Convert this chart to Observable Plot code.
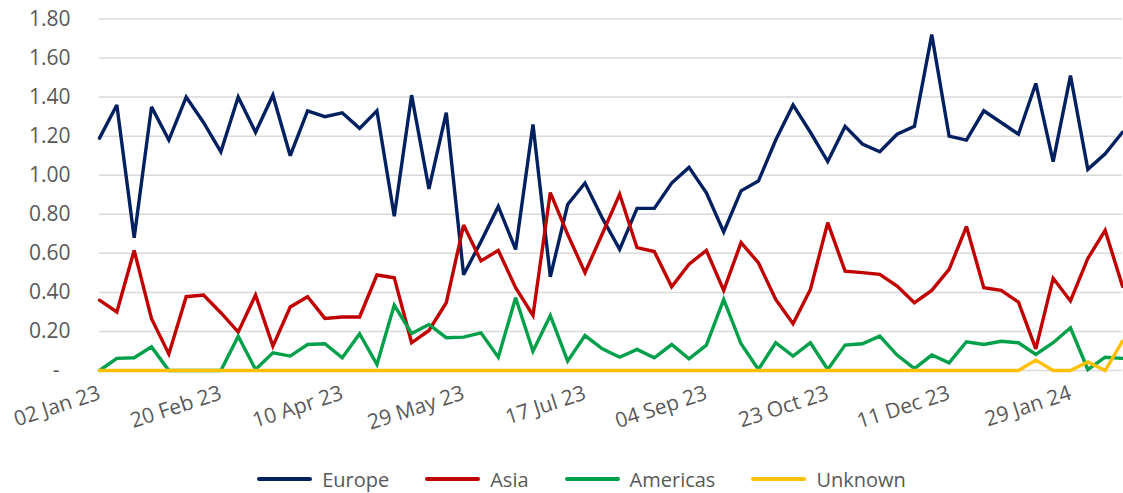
<!DOCTYPE html>
<html>
<head>
<meta charset="utf-8">
<script src="https://cdn.jsdelivr.net/npm/d3@7"></script>
<script src="https://cdn.jsdelivr.net/npm/@observablehq/plot@0.6"></script>
<style>
  html, body { margin: 0; padding: 0; background: #ffffff; overflow: hidden; }
  body { width: 1123px; height: 493px; font-family: "Open Sans", sans-serif; }
  #chart svg { display: block; }
  .legend { display: flex; justify-content: center; align-items: center; height: 38px; margin-top: 5px; padding-left: 40px; box-sizing: border-box; width: 1123px; }
  .item { display: flex; align-items: center; margin: 0 18px; color: #595959; font-size: 20px; }
  .swatch { width: 55px; height: 4px; border-radius: 2px; margin-right: 10px; }
</style>
</head>
<body>
<div id="chart"></div>
<script>
const dates = [
  "2023-01-02","2023-01-09","2023-01-16","2023-01-23","2023-01-30","2023-02-06","2023-02-13","2023-02-20","2023-02-27","2023-03-06",
  "2023-03-13","2023-03-20","2023-03-27","2023-04-03","2023-04-10","2023-04-17","2023-04-24","2023-05-01","2023-05-08","2023-05-15",
  "2023-05-22","2023-05-29","2023-06-05","2023-06-12","2023-06-19","2023-06-26","2023-07-03","2023-07-10","2023-07-17","2023-07-24",
  "2023-07-31","2023-08-07","2023-08-14","2023-08-21","2023-08-28","2023-09-04","2023-09-11","2023-09-18","2023-09-25","2023-10-02",
  "2023-10-09","2023-10-16","2023-10-23","2023-10-30","2023-11-06","2023-11-13","2023-11-20","2023-11-27","2023-12-04","2023-12-11",
  "2023-12-18","2023-12-25","2024-01-01","2024-01-08","2024-01-15","2024-01-22","2024-01-29","2024-02-05","2024-02-12","2024-02-19"
];
const europe = [1.19,1.36,0.68,1.35,1.18,1.40,1.27,1.12,1.40,1.22,
  1.41,1.10,1.33,1.30,1.32,1.24,1.33,0.79,1.41,0.93,
  1.32,0.49,0.66,0.84,0.62,1.26,0.48,0.85,0.96,0.78,
  0.62,0.83,0.83,0.96,1.04,0.91,0.71,0.92,0.97,1.18,
  1.36,1.22,1.07,1.25,1.16,1.12,1.21,1.25,1.72,1.20,
  1.18,1.33,1.27,1.21,1.47,1.07,1.51,1.03,1.11,1.22];
const asia = [0.36,0.30,0.615,0.265,0.085,0.378,0.386,0.296,0.197,0.386,
  0.125,0.325,0.378,0.267,0.274,0.274,0.489,0.475,0.142,0.205,
  0.347,0.745,0.561,0.615,0.424,0.282,0.911,0.697,0.501,0.70,
  0.903,0.629,0.609,0.429,0.544,0.615,0.410,0.655,0.552,0.364,
  0.239,0.415,0.757,0.509,0.501,0.492,0.432,0.347,0.410,0.518,
  0.737,0.424,0.410,0.350,0.111,0.472,0.356,0.574,0.718,0.432];
const americas = [0,0.062,0.065,0.121,0,0,0,0,0.176,0.005,
  0.091,0.074,0.133,0.137,0.065,0.188,0.031,0.335,0.190,0.236,
  0.168,0.171,0.193,0.068,0.373,0.099,0.282,0.048,0.179,0.111,
  0.068,0.108,0.065,0.133,0.060,0.130,0.364,0.137,0.005,0.142,
  0.074,0.142,0.005,0.130,0.137,0.176,0.079,0.010,0.079,0.039,
  0.147,0.133,0.150,0.142,0.082,0.142,0.219,0.005,0.068,0.062];
const unknown = [0,0,0,0,0,0,0,0,0,0,
  0,0,0,0,0,0,0,0,0,0,
  0,0,0,0,0,0,0,0,0,0,
  0,0,0,0,0,0,0,0,0,0,
  0,0,0,0,0,0,0,0,0,0,
  0,0,0,0,0.053,0,0,0.044,0,0.150];
const seriesNames = ["Europe","Asia","Americas","Unknown"];
const seriesColors = ["#002060","#C00000","#00A04A","#FFC000"];
const tickDateStrings = ["2023-01-02","2023-02-20","2023-04-10","2023-05-29","2023-07-17","2023-09-04","2023-10-23","2023-12-11","2024-01-29"];
const tickLabels = ["02 Jan 23","20 Feb 23","10 Apr 23","29 May 23","17 Jul 23","04 Sep 23","23 Oct 23","11 Dec 23","29 Jan 24"];
const yTicks = [0,0.2,0.4,0.6,0.8,1.0,1.2,1.4,1.6,1.8];

const parse = d3.utcParse("%Y-%m-%d");
const dateObjs = dates.map(parse);
const tickDates = tickDateStrings.map(parse);
const allValues = [europe, asia, americas, unknown];
const rows = allValues.flatMap((vals, s) => vals.map((v, i) => ({date: dateObjs[i], value: v, series: seriesNames[s]})));

const chart = Plot.plot({
  width: 1123,
  height: 455,
  marginLeft: 99,
  marginRight: 1,
  marginTop: 18.5,
  marginBottom: 85,
  style: {fontFamily: "'Open Sans', sans-serif", fontSize: "21px", color: "#595959", background: "#ffffff", overflow: "visible"},
  x: {type: "utc", domain: [dateObjs[0], dateObjs[dateObjs.length - 1]], label: null},
  y: {domain: [0, 1.8], label: null},
  marks: [
    Plot.gridY(yTicks, {stroke: "#d9d9d9", strokeOpacity: 1, strokeWidth: 1.5}),
    Plot.axisY(yTicks, {tickSize: 0, tickPadding: 29, label: null, fill: "#595959",
      tickFormat: d => d === 0 ? "-\u00a0\u00a0" : d3.format(".2f")(d)}),
    Plot.axisX(tickDates, {tickSize: 0, tickPadding: 22, tickRotate: -18, label: null, fill: "#595959",
      tickFormat: d => tickLabels[tickDates.findIndex(t => +t === +d)]}),
    ...seriesNames.map((name, s) => Plot.line(rows.filter(r => r.series === name), {
      x: "date", y: "value", stroke: seriesColors[s], strokeWidth: 3.4, strokeLinejoin: "miter", strokeMiterlimit: 3
    }))
  ]
});
document.getElementById("chart").appendChild(chart);

const legend = document.createElement("div");
legend.className = "legend";
seriesNames.forEach((name, s) => {
  const item = document.createElement("div");
  item.className = "item";
  const sw = document.createElement("span");
  sw.className = "swatch";
  sw.style.background = seriesColors[s];
  const label = document.createElement("span");
  label.textContent = name;
  item.appendChild(sw);
  item.appendChild(label);
  legend.appendChild(item);
});
document.body.appendChild(legend);
</script>
</body>
</html>
